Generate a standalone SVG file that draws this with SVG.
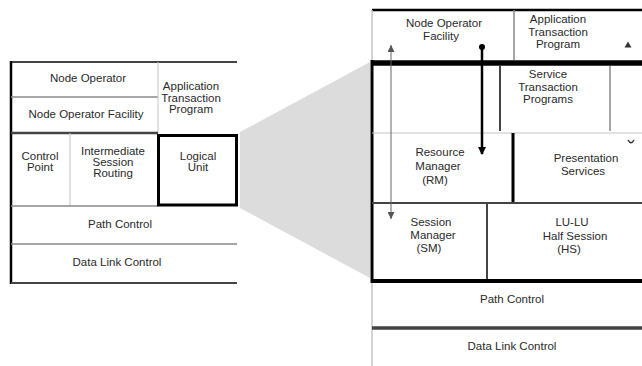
<svg xmlns="http://www.w3.org/2000/svg" width="642" height="366" viewBox="0 0 642 366">
<style>
text{font-family:"Liberation Sans",Arial,sans-serif;font-size:11.5px;fill:#2a2a2a;text-anchor:middle;dominant-baseline:middle}
.blk{stroke:#000;fill:none}
.dk{stroke:#444;fill:none}
.gr{stroke:#8a8a8a;fill:none}
.lt{stroke:#c4c4c4;fill:none}
</style>
<defs>
<marker id="ah" viewBox="0 0 8 8" refX="8" refY="4" markerWidth="7" markerHeight="7" markerUnits="userSpaceOnUse" orient="auto-start-reverse"><path d="M0,0 L8,4 L0,8 z" fill="#555"/></marker>
<marker id="ahb" viewBox="0 0 8 8" refX="7" refY="4" markerWidth="8" markerHeight="8" markerUnits="userSpaceOnUse" orient="auto"><path d="M0,0 L8,4 L0,8 z" fill="#000"/></marker>
</defs>
<rect width="642" height="366" fill="#fff"/>
<polygon points="240,132 370,62 370,278 240,208" fill="#dcdcdc"/>

<g id="left-stack">
<line class="dk" x1="11" y1="62" x2="237" y2="62" stroke-width="2"/>
<line class="blk" x1="11" y1="61" x2="11" y2="284" stroke-width="2.5"/>
<line class="gr" x1="11" y1="97" x2="158" y2="97" stroke-width="1.5"/>
<line class="lt" x1="158" y1="62" x2="158" y2="133" stroke-width="1"/>
<line class="dk" x1="11" y1="133" x2="158" y2="133" stroke-width="2.5"/>
<line class="lt" x1="70" y1="133" x2="70" y2="206" stroke-width="1"/>
<line class="gr" x1="11" y1="206" x2="158" y2="206" stroke-width="1.5"/>
<line class="gr" x1="11" y1="244" x2="237" y2="244" stroke-width="1.5"/>
<line class="dk" x1="11" y1="283" x2="237" y2="283" stroke-width="2"/>
</g>
<g id="l-node-operator"><text x="88" y="79">Node Operator</text></g>
<g id="l-nof"><text x="86" y="115">Node Operator Facility</text></g>
<g id="l-atp"><text x="191" y="87">Application</text><text x="191" y="98.5">Transaction</text><text x="191" y="110">Program</text></g>
<g id="l-cp"><text x="40" y="157">Control</text><text x="40" y="168">Point</text></g>
<g id="l-isr"><text x="113" y="152">Intermediate</text><text x="113" y="163">Session</text><text x="113" y="174">Routing</text></g>
<g id="l-lu"><rect class="blk" x="158.5" y="135.5" width="78" height="69.5" stroke-width="3"/><text x="198" y="157">Logical</text><text x="198" y="167.5">Unit</text></g>
<g id="l-pc"><text x="120" y="225">Path Control</text></g>
<g id="l-dlc"><text x="117" y="263">Data Link Control</text></g>

<g id="right-stack">
<line class="blk" x1="372" y1="10" x2="642" y2="10" stroke-width="2.5"/>
<line class="lt" x1="372" y1="10" x2="372" y2="60" stroke-width="1.5"/>
<line class="gr" x1="514" y1="10" x2="514" y2="60" stroke-width="1.5"/>
<line class="blk" x1="372" y1="63" x2="642" y2="63" stroke-width="5.5"/>
<line class="blk" x1="372" y1="60" x2="372" y2="283" stroke-width="3"/>
<line class="lt" x1="372" y1="283" x2="372" y2="366" stroke-width="1.5"/>
<line class="dk" x1="500" y1="66" x2="500" y2="131" stroke-width="2"/>
<line class="gr" x1="610" y1="66" x2="610" y2="131" stroke-width="1.5"/>
<line class="lt" x1="372" y1="133" x2="642" y2="133" stroke-width="1"/>
<line class="blk" x1="513" y1="133" x2="513" y2="203" stroke-width="3"/>
<line class="dk" x1="372" y1="203" x2="642" y2="203" stroke-width="2"/>
<line class="dk" x1="487" y1="203" x2="487" y2="280" stroke-width="2"/>
<line class="blk" x1="372" y1="281" x2="642" y2="281" stroke-width="4"/>
<line class="dk" x1="372" y1="328" x2="642" y2="328" stroke-width="3.5"/>
</g>
<g id="r-nof"><text x="444" y="24">Node Operator</text><text x="441" y="37">Facility</text></g>
<g id="r-atp"><text x="558" y="20">Application</text><text x="558" y="32.5">Transaction</text><text x="558" y="45">Program</text></g>
<g id="r-stp"><text x="548" y="75">Service</text><text x="548" y="88">Transaction</text><text x="548" y="100">Programs</text></g>
<g id="r-rm"><text x="440" y="153">Resource</text><text x="438" y="167">Manager</text><text x="435" y="181">(RM)</text></g>
<g id="r-ps"><text x="586" y="159">Presentation</text><text x="583" y="172">Services</text></g>
<g id="r-sm"><text x="431" y="223">Session</text><text x="433" y="236">Manager</text><text x="429" y="249">(SM)</text></g>
<g id="r-hs"><text x="572" y="223">LU-LU</text><text x="575" y="236.5">Half Session</text><text x="569" y="250">(HS)</text></g>
<g id="r-pc"><text x="512" y="300">Path Control</text></g>
<g id="r-dlc"><text x="512" y="347">Data Link Control</text></g>

<g id="connectors">
<line x1="391" y1="45" x2="391" y2="219" stroke="#666" stroke-width="1" marker-start="url(#ah)" marker-end="url(#ah)"/>
<line x1="482" y1="47" x2="482" y2="154" stroke="#000" stroke-width="2.5" marker-end="url(#ahb)"/>
<circle cx="482" cy="47" r="3" fill="#000"/>
<path d="M624.5,47.5 L628,41.5 L631.5,47.5 z" fill="#333"/>
<path d="M628,140 Q631,145.5 634,140" fill="none" stroke="#333" stroke-width="1.5"/>
</g>
</svg>
